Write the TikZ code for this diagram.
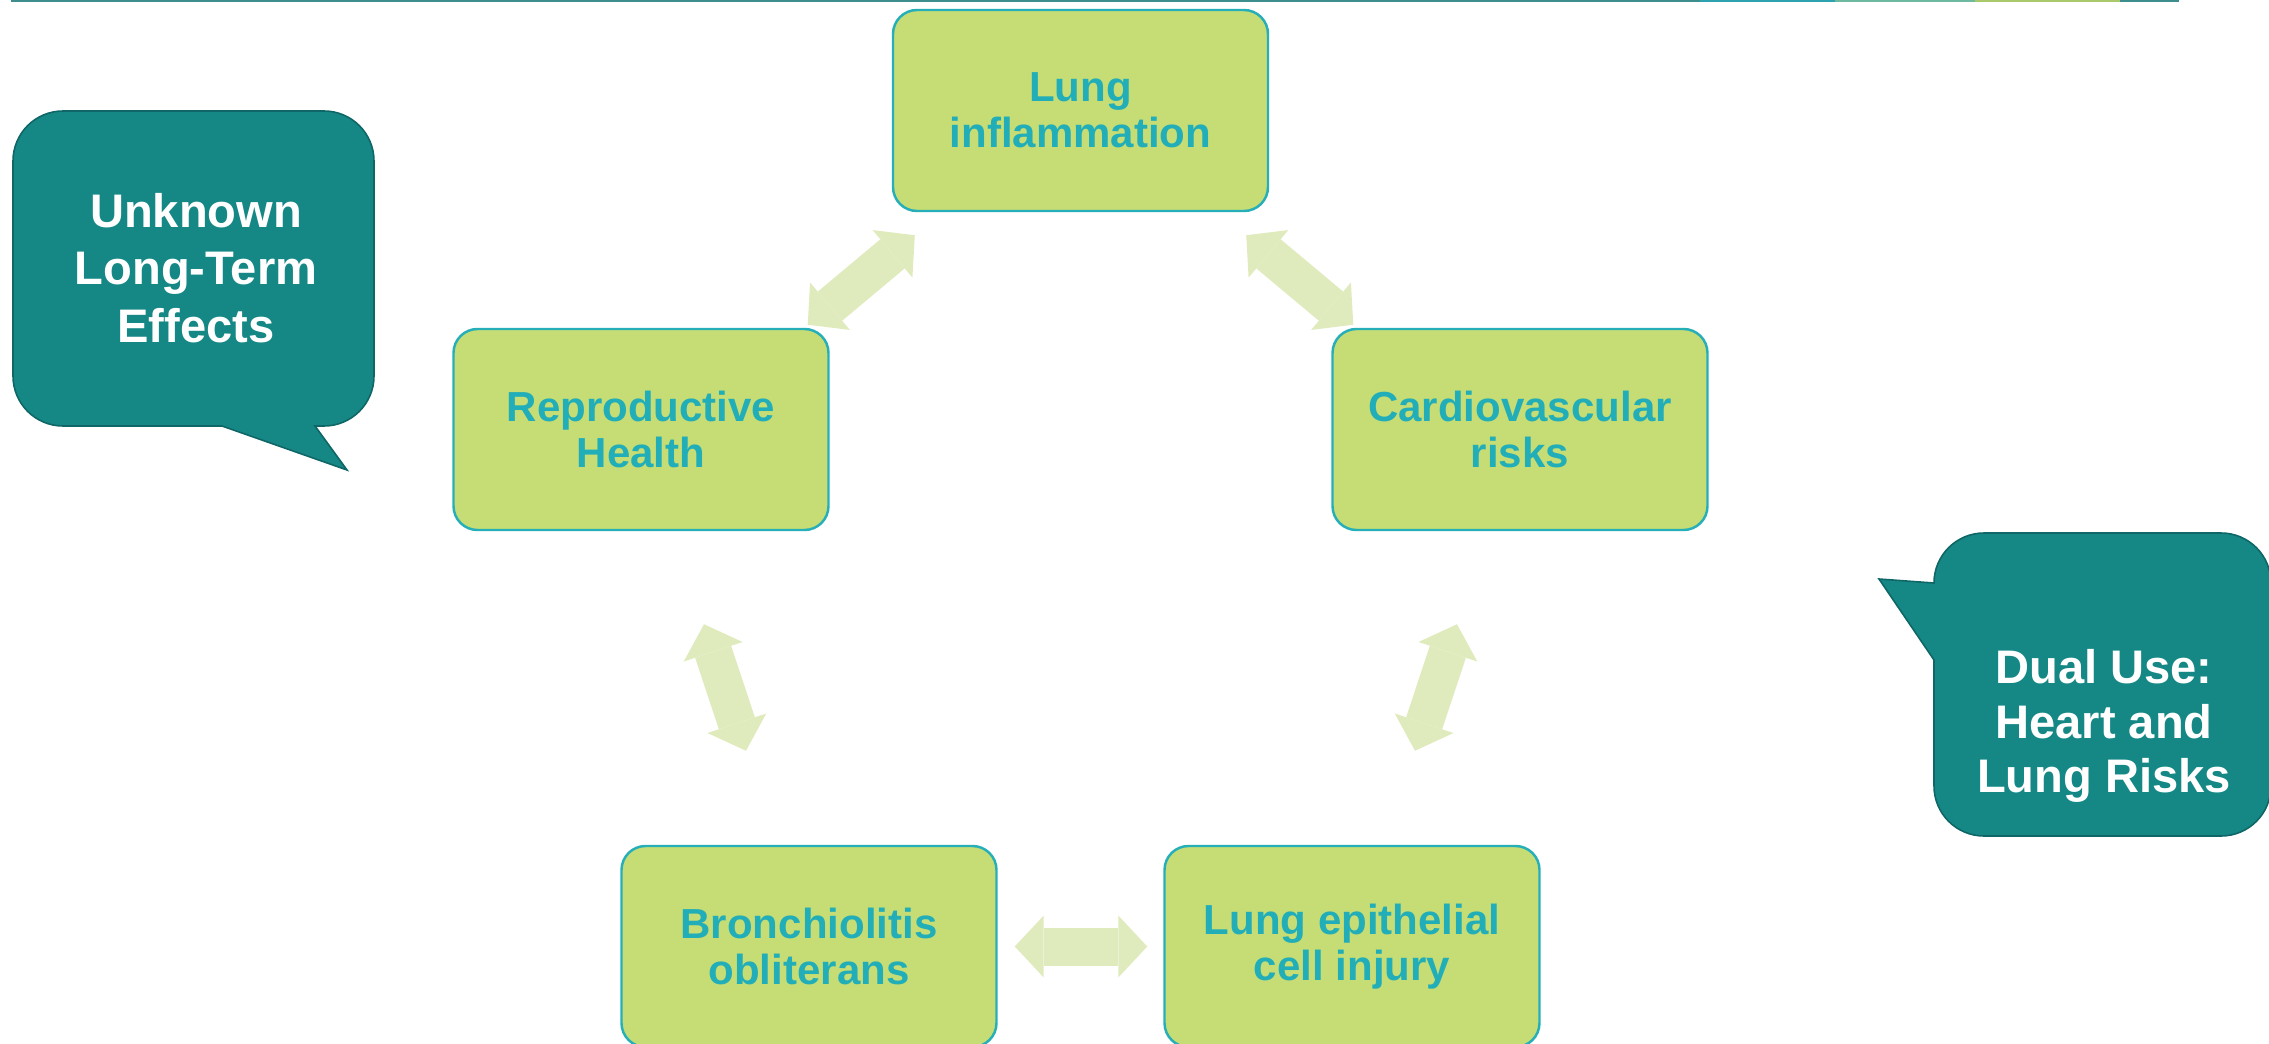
\documentclass[tikz,border=0pt]{standalone}
\usepackage{fontspec}
\setmainfont{Liberation Sans}
\usetikzlibrary{arrows.meta}
\definecolor{boxfill}{HTML}{C5DD74}
\definecolor{boxline}{HTML}{26AFB8}
\definecolor{boxtext}{HTML}{22AEB8}
\definecolor{linkfill}{HTML}{DFEBBD}
\definecolor{callfill}{HTML}{158886}
\definecolor{callline}{HTML}{0F6666}
\definecolor{ruleA}{HTML}{3F8E8E}
\definecolor{ruleB}{HTML}{2EA3B0}
\definecolor{ruleC}{HTML}{6DBAA0}
\definecolor{ruleD}{HTML}{ABC86A}
\tikzset{
  effect/.style={draw=boxline, line width=0.7pt, fill=boxfill, rounded corners=2.4mm,
    minimum width=37.5mm, minimum height=20.1mm, inner sep=0pt, align=center,
    text=boxtext, font=\fontsize{11.95}{13.1}\selectfont\bfseries},
  link/.style={draw=linkfill, line width=3.8mm,
    >={Triangle[length=2.9mm,width=6.2mm,line width=0pt]}, <->},
  callout/.style={fill=callfill, draw=callline, line width=0.45pt},
  calltext/.style={text=white, align=center, font=\fontsize{13.4}{16.3}\selectfont\bfseries}
}
\begin{document}
\begin{tikzpicture}[x=0.1mm, y=-0.1mm]
\clip (0,0) rectangle (2269,1044);
\draw[ruleA, line width=0.2mm] (11,1) -- (1700,1);
\draw[ruleB, line width=0.2mm] (1700,1) -- (1835,1);
\draw[ruleC, line width=0.2mm] (1835,1) -- (1975,1);
\draw[ruleD, line width=0.2mm] (1975,1) -- (2120,1);
\draw[ruleA, line width=0.2mm] (2120,1) -- (2179,1);

\node[effect] (lung) at (1080.5,110.5) {Lung\\inflammation};
\node[effect] (repro) at (641,429.5) {Reproductive\\Health};
\node[effect] (cardio) at (1520,429.5) {Cardiovascular\\risks};
\node[effect] (bronch) at (809,946.5) {Bronchiolitis\\obliterans};
\node[effect] (injury) at (1352,946.5) {Lung epithelial\\cell injury};

\draw[link] ([shift={(23,23)}]lung.south west) -- ([shift={(-22,-3)}]repro.north east);
\draw[link] ([shift={(-23,23)}]lung.south east) -- ([shift={(22,-3)}]cardio.north west);
\draw[link] ([shift={(63,93)}]repro.south) -- ([shift={(-63,-94)}]bronch.north);
\draw[link] ([shift={(-63,93)}]cardio.south) -- ([shift={(63,-94)}]injury.north);
\draw[link] ([shift={(17,0)}]bronch.east) -- ([shift={(-16,0)}]injury.west);

\draw[callout] (222,426) -- (347,470) -- (315,426) -- (324,426) arc(90:0:50)
  -- (374,161) arc(0:-90:50) -- (63,111) arc(-90:-180:50) -- (13,376) arc(180:90:50) -- cycle;
\node[calltext] (unknown) at (196,268) {Unknown\\Long-Term\\Effects};

\draw[callout] (1934,660) -- (1934,786) arc(180:90:50) -- (2221,836) arc(90:0:50)
  -- (2271,583) arc(0:-90:50) -- (1984,533) arc(-90:-180:50) -- (1879,579) -- cycle;
\node[calltext, font=\fontsize{13.4}{15.5}\selectfont\bfseries] (dual) at (2104,726) {Dual Use:\\Heart and\\Lung Risks};
\end{tikzpicture}
\end{document}
